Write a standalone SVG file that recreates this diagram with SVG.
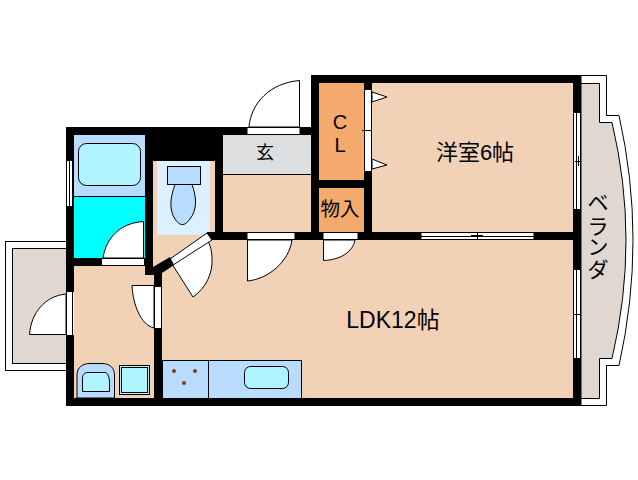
<svg xmlns="http://www.w3.org/2000/svg" width="638" height="480" viewBox="0 0 638 480">
<style>
.wall{fill:#000}
.peach{fill:#f2d2b6}
.door{fill:#fff;stroke:#000;stroke-width:1}
.win{fill:#fff;stroke:#000;stroke-width:1}
.ln{fill:none;stroke:#000;stroke-width:1}
.t{font-family:"Liberation Sans","Noto Sans CJK JP",sans-serif;fill:#000;text-anchor:middle}
</style>
<rect width="638" height="480" fill="#fff"/>
<g id="balcony-left">
<rect x="5.500" y="241.500" width="61" height="129" fill="#fff" stroke="#000"/>
<rect x="12.500" y="248.500" width="54" height="115" fill="#e0d8d0" stroke="#000"/>
</g>
<g id="veranda">
<path d="M581 75.500H606.500V115.500H619Q647 240 619 365.500H606.500V405.500H581Z" fill="#fff" stroke="#000"/>
<path d="M581 83.500H599.500V122.500H612Q640 240 612 358.500H599.500V398.500H581Z" fill="#e0d8d0" stroke="#000"/>
<text class="t" font-size="21" x="598 598 598 598" y="210 234 254 277">ベランダ</text>
</g>
<g id="walls">
<path class="wall" d="M66 127H311V75H581V406H66ZM74 135V398H573V83H319V135Z" fill-rule="evenodd"/>
</g>
<g id="bath">
<rect x="74" y="135" width="71" height="61" fill="#b8dcff"/>
<rect x="74" y="197" width="71" height="61" fill="#00ffff"/>
<line class="ln" x1="74" y1="196.500" x2="145" y2="196.500"/>
<rect x="78.500" y="143.500" width="62" height="42" rx="8" fill="#b0f4ff" stroke="#000"/>
<path class="door" d="M143.500 258V221.500C120 223 106 238 103 258Z"/>
<rect class="win" x="101.500" y="258.500" width="43" height="7"/>
<rect class="win" x="66.500" y="160.500" width="3" height="46"/>
<rect class="win" x="69.500" y="160.500" width="3" height="46"/>
</g>
<g id="toilet">
<rect class="peach" x="153" y="161" width="62" height="112"/>
<rect x="157" y="161" width="53" height="74" fill="#dcf0ff"/>
<rect x="167.500" y="166.500" width="33" height="18" fill="#b8dcff" stroke="#000"/>
<path d="M175 184.500C170 198 169 210 175 219C180 226 184 227 190 219C197 210 197 198 192 184.500Z" fill="#b8dcff" stroke="#000"/>
</g>
<g id="entry">
<rect x="223" y="135" width="88" height="40" fill="#dcdee0"/>
<rect class="peach" x="223" y="175" width="88" height="57"/>
<line class="ln" x1="223" y1="174.500" x2="311" y2="174.500"/>
<path class="door" d="M299.500 127V80.500C270 83 251 103 249 127Z"/>
<rect class="win" x="247" y="127.500" width="53" height="7"/>
<text class="t" font-size="18" x="265" y="159">玄</text>
</g>
<g id="closet">
<rect x="319" y="83" width="45" height="97" fill="#f4aa6c"/>
<rect x="319" y="188" width="45" height="44" fill="#f4aa6c"/>
<text class="t" font-size="20" x="340" y="129">C</text>
<text class="t" font-size="20" x="340" y="152">L</text>
<text class="t" font-size="19.500" x="340" y="216">物入</text>
</g>
<g id="western-room">
<rect class="peach" x="372" y="83" width="201" height="149"/>
<path class="door" d="M372 92L387 97L372 102Z"/>
<path class="door" d="M372 159L387 165L372 169Z"/>
<rect class="win" x="573.500" y="112.500" width="3" height="97"/>
<rect class="win" x="576.500" y="112.500" width="4" height="97"/>
<path class="ln" d="M575 161.500H581M578.500 156V166"/>
<text class="t" font-size="22" x="475" y="160">洋室6帖</text>
</g>
<g id="ldk">
<path class="peach" d="M162 240H573V398H162Z"/>
<rect x="162" y="360" width="139" height="38" fill="#b8dcff"/>
<rect x="162.500" y="360.500" width="139" height="38" fill="none" stroke="#000"/>
<line class="ln" x1="208.500" y1="360" x2="208.500" y2="398"/>
<rect x="244.500" y="366.500" width="44" height="22" rx="6" fill="#b0f4ff" stroke="#000"/>
<circle cx="174" cy="371" r="2" fill="#7a3e10"/>
<circle cx="195" cy="371" r="2" fill="#7a3e10"/>
<circle cx="184" cy="383" r="2" fill="#7a3e10"/>
<rect class="win" x="247" y="232.500" width="48" height="7"/>
<path class="door" d="M247.500 240V281C268 279 289 262 292 240Z"/>
<rect class="win" x="323" y="232.500" width="35" height="7"/>
<path class="door" d="M323.500 240V260.500C340 260 353 252 355 240Z"/>
<rect class="win" x="421" y="232.500" width="113" height="4"/>
<rect class="win" x="421" y="236.500" width="113" height="3"/>
<path class="ln" d="M471 235.500H483M477.500 232V239"/>
<rect class="win" x="573.500" y="269.500" width="3" height="89"/>
<rect class="win" x="576.500" y="269.500" width="4" height="89"/>
<path class="ln" d="M573 314.500H581M576.500 309V319"/>
<text class="t" font-size="23" x="393" y="328">LDK12帖</text>
</g>
<g id="hall">
<rect class="peach" x="74" y="266" width="80" height="132"/>
<path d="M77 398V375C77 367 83 363.500 90 363.500H102C110 363.500 114.500 368 114.500 375V398Z" fill="#b8dcff" stroke="#000"/>
<path d="M82.500 391.500V378C82.500 374 85 372.500 88 372.500H106C108 374 109.500 378 109.500 382V391.500Z" fill="#b0f4ff" stroke="#000"/>
<rect x="119.500" y="365.500" width="30" height="29" fill="#b0f4ff" stroke="#000"/>
<rect x="121.500" y="367.500" width="26" height="25" fill="none" stroke="#000"/>
<path class="door" d="M132 285.500H154V328C141 325 133 305 132 285.500Z"/>
<path class="door" d="M66 294V334.500H29.500C31 313 45 296 66 294Z"/>
<rect x="67" y="292" width="7" height="43" fill="#fff"/>
<path class="ln" d="M72.500 292V335"/>
<rect class="win" x="154.500" y="286.500" width="7" height="42"/>
</g>
<g id="inner-walls">
<rect class="wall" x="145" y="135" width="8" height="125"/>
<rect class="wall" x="153" y="135" width="70" height="26"/>
<rect class="wall" x="215" y="135" width="8" height="105"/>
<rect class="wall" x="74" y="258" width="28" height="8"/>
<rect class="wall" x="207" y="232" width="40" height="8"/>
<rect class="wall" x="295" y="232" width="28" height="8"/>
<rect class="wall" x="358" y="232" width="63" height="8"/>
<rect class="wall" x="534" y="232" width="39" height="8"/>
<rect class="wall" x="311" y="83" width="8" height="149"/>
<rect class="wall" x="364" y="83" width="8" height="6"/>
<rect class="win" x="364.500" y="89.500" width="7" height="82"/>
<path class="ln" d="M362 130.500H372"/>
<rect class="wall" x="364" y="172" width="8" height="60"/>
<rect class="wall" x="319" y="180" width="45" height="8"/>
<rect class="wall" x="154" y="329" width="8" height="69"/>
<rect class="wall" x="154" y="275" width="8" height="11"/>
<path class="door" d="M172 264L193 297C206 288 213 273 212 258C212 251 210 245 208 241Z"/>
<path d="M170 259L207 233L212 240L173 265Z" fill="#fff" stroke="#000"/>
<path class="wall" d="M145 258H153V267L170 257L174 265L162 273V275H145Z"/>
<path class="wall" d="M207 232H215V240H212Z"/>
</g>
</svg>
